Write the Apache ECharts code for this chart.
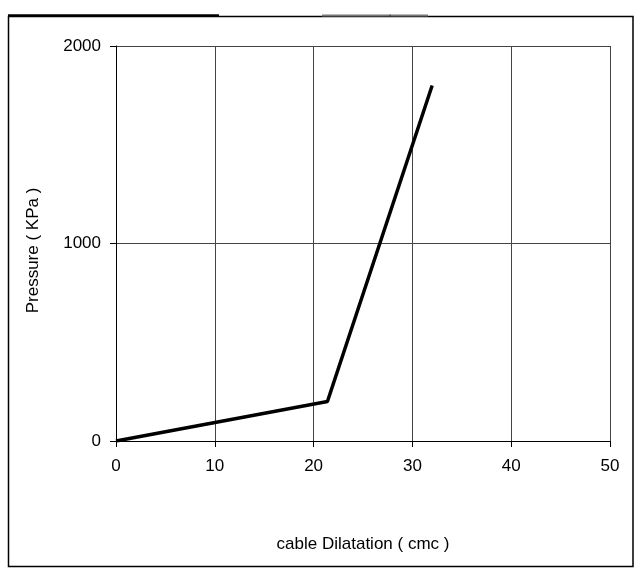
<!DOCTYPE html>
<html>
<head>
<meta charset="utf-8">
<script src="https://cdn.jsdelivr.net/npm/echarts@6/dist/echarts.min.js"></script>
<style>
html,body{margin:0;padding:0;background:#fff;}
#chart{width:637px;height:574px;}
</style>
</head>
<body>
<div id="chart"></div>
<script>
const xValues = [0, 21.4, 32];
const yValues = [0, 200, 1800];
const xTicks = [0, 10, 20, 30, 40, 50];
const yTicks = [0, 1000, 2000];
const xName = 'cable Dilatation ( cmc )';
const yName = 'Pressure ( KPa )';

const chart = echarts.init(document.getElementById('chart'), null, {renderer: 'canvas'});
const font = 'Liberation Sans, Arial, sans-serif';
const option = {
  animation: false,
  backgroundColor: '#fff',
  grid: {left: 116, top: 46, right: 27, bottom: 133, show: false},
  xAxis: {
    type: 'value', min: xTicks[0], max: xTicks[xTicks.length - 1], interval: 10,
    name: xName, nameLocation: 'middle', nameGap: 95,
    nameTextStyle: {color: '#000', fontSize: 17, fontFamily: font},
    axisLine: {show: true, lineStyle: {color: '#000', width: 1}},
    axisTick: {show: true, length: 6, lineStyle: {color: '#000'}},
    axisLabel: {color: '#000', fontSize: 17, fontFamily: font, margin: 17, formatter: v => String(v)},
    splitLine: {show: true, lineStyle: {color: '#444', width: 1}}
  },
  yAxis: {
    type: 'value', min: yTicks[0], max: yTicks[yTicks.length - 1], interval: 1000,
    name: yName, nameLocation: 'middle', nameGap: 74,
    nameTextStyle: {color: '#000', fontSize: 17, fontFamily: font, padding: [0, 14, 0, 0]},
    axisLine: {show: true, lineStyle: {color: '#000', width: 1}},
    axisTick: {show: true, length: 6, lineStyle: {color: '#000'}},
    axisLabel: {color: '#000', fontSize: 17, fontFamily: font, margin: 15, formatter: v => String(v)},
    splitLine: {show: true, lineStyle: {color: '#444', width: 1}}
  },
  series: [{
    type: 'line',
    data: xValues.map((x, i) => [x, yValues[i]]),
    symbol: 'none',
    lineStyle: {color: '#000', width: 3.5},
    z: 5
  }],
  graphic: [
    {type: 'rect', shape: {x: 8.5, y: 16.5, width: 624.5, height: 550}, style: {fill: 'none', stroke: '#000', lineWidth: 1.5}, silent: true},
    {type: 'line', shape: {x1: 8, y1: 15.5, x2: 219, y2: 15.5}, style: {stroke: '#000', lineWidth: 2.5}, silent: true},
    {type: 'line', shape: {x1: 322, y1: 15.5, x2: 428, y2: 15.5}, style: {stroke: '#777', lineWidth: 2}, silent: true},
    {type: 'line', shape: {x1: 390, y1: 14.5, x2: 390, y2: 16.5}, style: {stroke: '#333', lineWidth: 1}, silent: true}
  ]
};
chart.setOption(option);
</script>
</body>
</html>
